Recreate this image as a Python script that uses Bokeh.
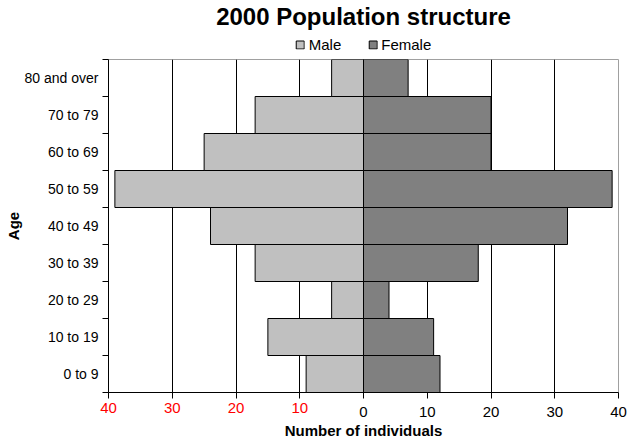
from bokeh.plotting import figure
from bokeh.layouts import column
from bokeh.models import (Legend, LegendItem, FixedTicker, Range1d, LinearAxis)
from bokeh.embed import file_html
from bokeh.resources import INLINE

# ---- data ----
age_groups = ["0 to 9", "10 to 19", "20 to 29", "30 to 39", "40 to 49",
              "50 to 59", "60 to 69", "70 to 79", "80 and over"]
male = [9, 15, 5, 17, 24, 39, 25, 17, 5]
female = [12, 11, 4, 18, 32, 39, 20, 20, 7]
x_ticks = [-40, -30, -20, -10, 0, 10, 20, 30, 40]

FONT = "Liberation Sans"
MALE_COLOR = "#c0c0c0"
FEMALE_COLOR = "#808080"
W = 635
LEFT, RIGHT = 108, 17
n = len(age_groups)
y_pos = [i + 0.5 for i in range(n)]
male_left = [-m for m in male]
zeros = [0] * n
x_min, x_max = x_ticks[0], x_ticks[-1]

# ---------- header: title + legend ----------
header = figure(width=W, height=59, output_backend="svg", toolbar_location=None,
                x_range=Range1d(x_min, x_max), y_range=Range1d(1000, 1001),
                x_axis_location=None, y_axis_location=None,
                min_border_left=LEFT, min_border_right=RIGHT,
                min_border_top=0, min_border_bottom=0,
                title="2000 Population structure")
header.grid.visible = False
header.outline_line_color = None
header.title.text_font = FONT
header.title.text_font_size = "24px"
header.title.text_font_style = "bold"
header.title.text_color = "black"
header.title.align = "center"
header.title.standoff = 0
# legend proxies (same data, outside this strip's visible range)
hm = header.hbar(y=y_pos, left=male_left, right=zeros, height=1,
                 fill_color=MALE_COLOR, line_color="black")
hf = header.hbar(y=y_pos, left=zeros, right=female, height=1,
                 fill_color=FEMALE_COLOR, line_color="black")
legend = Legend(items=[LegendItem(label="Male", renderers=[hm]),
                       LegendItem(label="Female", renderers=[hf])],
                orientation="horizontal", location="center",
                glyph_width=10, glyph_height=10, label_height=14,
                label_text_font=FONT, label_text_font_size="15px",
                label_text_color="black",
                border_line_color=None, background_fill_alpha=0,
                padding=0, margin=0, spacing=26, label_standoff=4)
header.add_layout(legend)

# ---------- main plot ----------
p = figure(frame_width=W - LEFT - RIGHT, frame_height=333,
           output_backend="svg", toolbar_location=None,
           x_range=Range1d(x_min, x_max), y_range=Range1d(0, n),
           min_border_left=LEFT, min_border_right=RIGHT,
           min_border_top=0, min_border_bottom=0)
p.ygrid.visible = False
p.xgrid.ticker = FixedTicker(ticks=x_ticks[1:-1])
p.xgrid.grid_line_color = "black"
p.xgrid.grid_line_width = 1
p.outline_line_color = "#a0a0a0"

p.hbar(y=y_pos, left=male_left, right=zeros, height=1,
       fill_color=MALE_COLOR, line_color="black", line_width=1)
p.hbar(y=y_pos, left=zeros, right=female, height=1,
       fill_color=FEMALE_COLOR, line_color="black", line_width=1)

yax = p.yaxis[0]
yax.ticker = FixedTicker(ticks=y_pos, minor_ticks=list(range(n + 1)))
yax.major_label_overrides = {y: lab for y, lab in zip(y_pos, age_groups)}
yax.major_tick_out = 0
yax.major_tick_in = 0
yax.minor_tick_out = 6
yax.minor_tick_in = 0
yax.minor_tick_line_color = "black"
yax.major_label_standoff = 4
yax.major_label_text_font = FONT
yax.major_label_text_font_size = "14px"
yax.major_label_text_color = "black"
yax.axis_line_color = "black"
yax.axis_label = "Age"
yax.axis_label_text_font = FONT
yax.axis_label_text_font_size = "15px"
yax.axis_label_text_font_style = "bold"
yax.axis_label_text_color = "black"
yax.axis_label_standoff = 0

# bottom axis: tick marks + black labels for the female side
xax = p.xaxis[0]
xax.ticker = FixedTicker(ticks=x_ticks, minor_ticks=[])
xax.major_label_overrides = {t: (str(t) if t >= 0 else "") for t in x_ticks}
xax.major_label_standoff = 8
xax.major_tick_out = 6
xax.major_tick_in = 0
xax.minor_tick_out = 0
xax.major_tick_line_color = "black"
xax.axis_line_color = "black"
xax.major_label_text_font = FONT
xax.major_label_text_font_size = "15px"
xax.major_label_text_color = "black"

# second bottom axis: red labels for the male side (pulled up onto the
# same row) + the axis title
neg = [t for t in x_ticks if t < 0]
xax2 = LinearAxis(ticker=FixedTicker(ticks=neg, minor_ticks=[]),
                  major_label_overrides={t: str(abs(t)) for t in neg},
                  major_tick_out=0, major_tick_in=0,
                  minor_tick_out=0, minor_tick_in=0,
                  major_tick_line_color=None, minor_tick_line_color=None,
                  axis_line_color=None,
                  major_label_standoff=-17,
                  major_label_text_font=FONT,
                  major_label_text_font_size="15px",
                  major_label_text_color="#ff0000",
                  axis_label="Number of individuals",
                  axis_label_text_font=FONT,
                  axis_label_text_font_size="15px",
                  axis_label_text_font_style="bold",
                  axis_label_text_color="black",
                  axis_label_standoff=6)
p.add_layout(xax2, "below")

layout = column(header, p, spacing=0)
open("out.html", "w").write(file_html(layout, INLINE))
